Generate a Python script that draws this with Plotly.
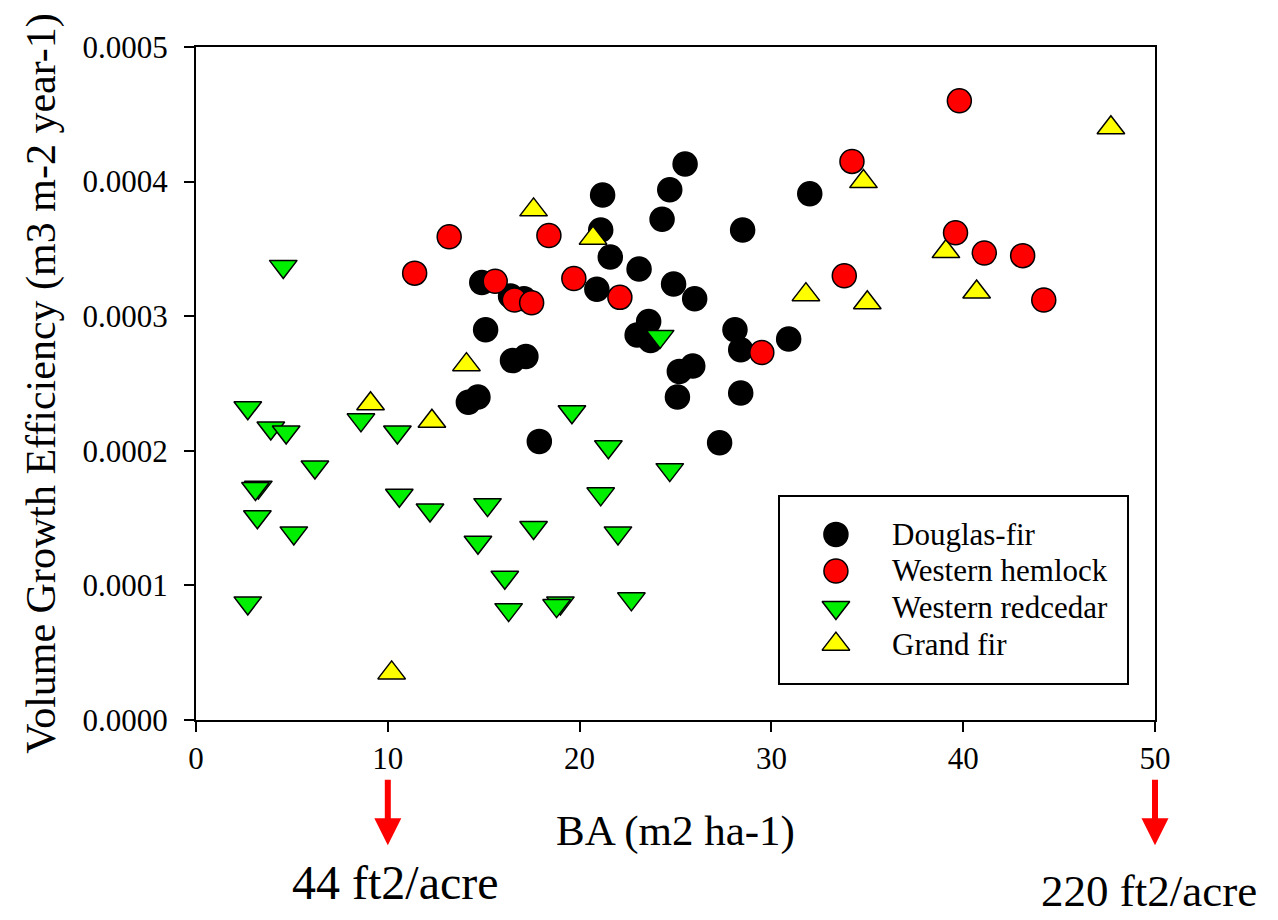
import plotly.graph_objects as go

# Basal area (m2 ha-1) and volume growth efficiency (m3 m-2 year-1) by species
df_ba = [14.2, 14.7, 14.9, 15.1, 16.5, 17.2, 17.9, 16.4, 17.1, 25.5, 24.7, 21.2, 24.3, 32.0,
         28.5, 21.1, 21.6, 23.1, 20.9, 24.9, 26.0, 23.6, 23.0, 23.7, 28.1, 28.4, 30.9, 25.9,
         25.2, 25.1, 28.4, 27.3]
df_vge = [0.000236, 0.000240, 0.000325, 0.000290, 0.000267, 0.000270, 0.000207, 0.000315,
          0.000313, 0.000413, 0.000394, 0.000390, 0.000372, 0.000391, 0.000364, 0.000364,
          0.000344, 0.000335, 0.000320, 0.000324, 0.000313, 0.000296, 0.000286, 0.000282,
          0.000290, 0.000275, 0.000283, 0.000263, 0.000259, 0.000240, 0.000243, 0.000206]

wh_ba = [11.4, 13.2, 15.6, 16.6, 17.5, 18.4, 19.7, 22.1, 29.5, 33.8, 34.2, 39.8, 39.6, 41.1,
         43.1, 44.2]
wh_vge = [0.000332, 0.000359, 0.000326, 0.000312, 0.000310, 0.000360, 0.000328, 0.000314,
          0.000273, 0.000330, 0.000415, 0.000460, 0.000362, 0.000347, 0.000345, 0.000312]

rc_ba = [4.55, 2.7, 3.9, 4.7, 8.6, 10.5, 6.2, 3.25, 3.1, 3.2, 5.1, 10.6, 12.2, 15.2, 14.7, 2.7,
         19.6, 21.5, 24.7, 21.1, 17.6, 22.0, 16.1, 16.3, 19.0, 18.8, 22.7, 24.2]
rc_vge = [0.000337, 0.000232, 0.000217, 0.000214, 0.000223, 0.000214, 0.000188, 0.000173,
          0.000172, 0.000151, 0.000139, 0.000167, 0.000156, 0.000160, 0.000132, 0.000087,
          0.000229, 0.000203, 0.000186, 0.000168, 0.000143, 0.000139, 0.000106, 0.000082,
          0.000087, 0.000085, 0.000090, 0.000285]

gf_ba = [10.2, 9.1, 12.3, 14.1, 17.6, 20.7, 31.8, 34.8, 35.0, 39.1, 40.7, 47.7]
gf_vge = [0.000035, 0.000235, 0.000222, 0.000264, 0.000379, 0.000358, 0.000316, 0.000400,
          0.000310, 0.000348, 0.000318, 0.000440]

species = ["Douglas-fir", "Western hemlock", "Western redcedar", "Grand fir"]
x_ticks = [0, 10, 20, 30, 40, 50]
y_ticks = [0, 0.0001, 0.0002, 0.0003, 0.0004, 0.0005]
arrow_ba = [10, 50]
arrow_labels = ["44 ft2/acre", "220 ft2/acre"]

style = {
    "Douglas-fir": dict(symbol="circle", color="#000000"),
    "Western hemlock": dict(symbol="circle", color="#ff0000"),
    "Western redcedar": dict(symbol="triangle-down", color="#00ee00"),
    "Grand fir": dict(symbol="triangle-up", color="#ffff00"),
}
data = {
    "Douglas-fir": (df_ba, df_vge),
    "Western hemlock": (wh_ba, wh_vge),
    "Western redcedar": (rc_ba, rc_vge),
    "Grand fir": (gf_ba, gf_vge),
}
draw_order = ["Douglas-fir", "Western redcedar", "Grand fir", "Western hemlock"]

SERIF = "Liberation Serif, Times New Roman, serif"
MSIZE = 24

fig = go.Figure()
for name in draw_order:
    xs, ys = data[name]
    st = style[name]
    fig.add_trace(go.Scatter(
        x=xs, y=ys, mode="markers", name=name, showlegend=False,
        marker=dict(symbol=st["symbol"], color=st["color"], size=MSIZE,
                    line=dict(color="black", width=1.5)),
        hoverinfo="x+y+name",
    ))

# Legend drawn on an overlay axis so the symbols keep their plotted size
for i, name in enumerate(species):
    st = style[name]
    row_y = 0.80 - i * 0.197
    fig.add_trace(go.Scatter(
        x=[0.161], y=[row_y], mode="markers", xaxis="x2", yaxis="y2",
        showlegend=False, hoverinfo="skip",
        marker=dict(symbol=st["symbol"], color=st["color"], size=MSIZE,
                    line=dict(color="black", width=1.5)),
    ))
    fig.add_annotation(x=0.317, y=row_y, xref="x2", yref="y2", text=name,
                       showarrow=False, xanchor="left", yanchor="middle",
                       font=dict(family=SERIF, size=31, color="black"))

axis_common = dict(showline=True, linecolor="black", linewidth=2, mirror=True,
                   ticks="outside", ticklen=10, tickwidth=2, tickcolor="black",
                   showgrid=False, zeroline=False,
                   tickfont=dict(family=SERIF, size=31, color="black"))

fig.update_layout(
    width=1278, height=920,
    margin=dict(l=196, r=123, t=47, b=200),
    paper_bgcolor="white", plot_bgcolor="white",
    xaxis=dict(range=[0, 50], tickvals=x_ticks, ticktext=[str(v) for v in x_ticks],
               title=dict(text="BA (m2 ha-1)", font=dict(family=SERIF, size=43, color="black"),
                          standoff=40),
               **axis_common),
    yaxis=dict(range=[0, 0.0005], tickvals=y_ticks, tickformat=".4f",
               ticklabelstandoff=10,
               title=dict(text="Volume Growth Efficiency (m3 m-2 year-1)",
                          font=dict(family=SERIF, size=42, color="black"), standoff=14),
               **axis_common),
    xaxis2=dict(domain=[0.609, 0.971], range=[0, 1], anchor="y2", showline=True,
                linecolor="black", linewidth=1.5, mirror=True, showticklabels=False,
                ticks="", showgrid=False, zeroline=False, fixedrange=True),
    yaxis2=dict(domain=[0.055, 0.331], range=[0, 1], anchor="x2", showline=True,
                linecolor="black", linewidth=1.5, mirror=True, showticklabels=False,
                ticks="", showgrid=False, zeroline=False, fixedrange=True),
    showlegend=False,
)

# Red arrows marking the basal-area conversions
label_y = [-0.242, -0.254]
label_dx = [0.4, -0.3]
label_size = [48, 45]
for ba, lab, ly, dx, fs in zip(arrow_ba, arrow_labels, label_y, label_dx, label_size):
    fig.add_annotation(x=ba, y=-0.186, xref="x", yref="paper", ax=0, ay=-67,
                       showarrow=True, arrowhead=2, arrowsize=0.9, arrowwidth=6,
                       arrowcolor="#ff0000", text="")
    fig.add_annotation(x=ba + dx, y=ly, xref="x", yref="paper",
                       text=lab, showarrow=False, xanchor="center", yanchor="middle",
                       font=dict(family=SERIF, size=fs, color="black"))

fig.write_html("out.html")
